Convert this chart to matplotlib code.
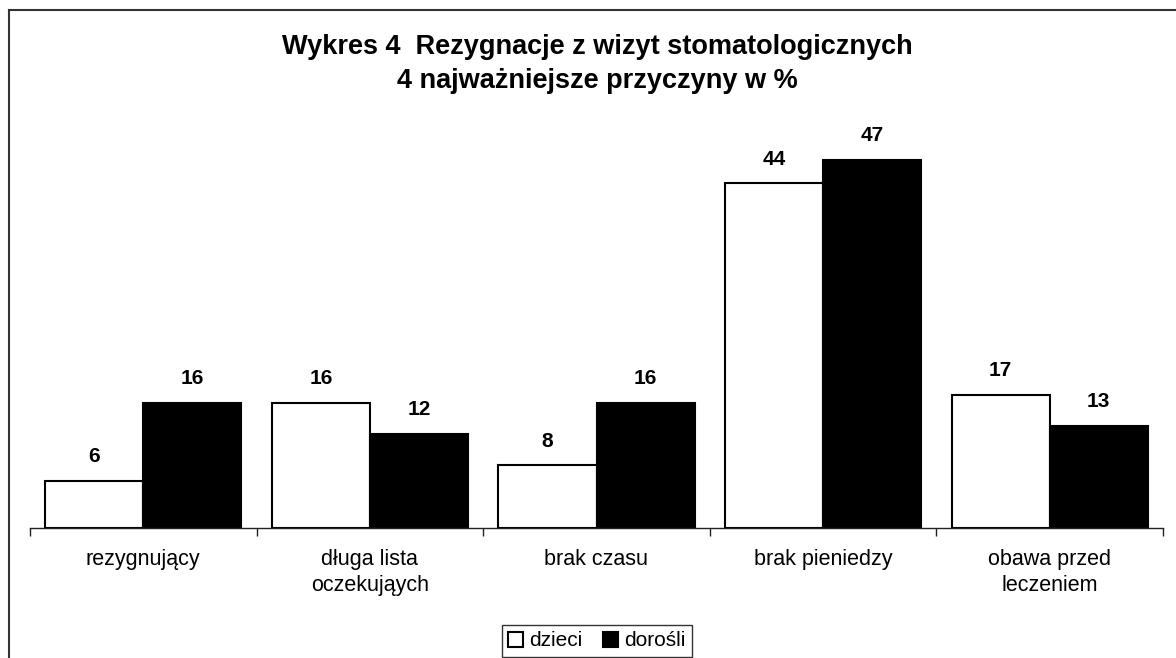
import numpy as np
import matplotlib
matplotlib.use("Agg")
import matplotlib.pyplot as plt
from matplotlib.lines import Line2D
from matplotlib.patches import Patch

# --- data ---
categories = ["rezygnujący", "długa lista\noczekująych", "brak czasu",
              "brak pieniedzy", "obawa przed\nleczeniem"]
dzieci = [6, 16, 8, 44, 17]
dorosli = [16, 12, 16, 47, 13]
series_names = ["dzieci", "dorośli"]
title = "Wykres 4  Rezygnacje z wizyt stomatologicznych\n4 najważniejsze przyczyny w %"

plt.rcParams['font.family'] = ['Liberation Sans', 'DejaVu Sans']

fig = plt.figure(figsize=(11.76, 6.58), dpi=100)
ax = fig.add_axes([30 / 1176, 1 - 528 / 658, 1133 / 1176, 391.5 / 658])

x = np.arange(len(categories))
w = 0.433
b1 = ax.bar(x - w / 2, dzieci, w, color='white', edgecolor='black', linewidth=1.5)
b2 = ax.bar(x + w / 2, dorosli, w, color='black', edgecolor='black', linewidth=1.5)

for rects, vals in ((b1, dzieci), (b2, dorosli)):
    for r, v in zip(rects, vals):
        ax.text(r.get_x() + r.get_width() / 2, v + 2.4, str(v),
                ha='center', va='baseline', fontsize=15, fontweight='bold')

ax.set_xlim(-0.5, len(categories) - 0.5)
ax.set_ylim(0, 50)
for s in ('top', 'right', 'left'):
    ax.spines[s].set_visible(False)
ax.spines['bottom'].set_color('#222222')
ax.spines['bottom'].set_linewidth(1)
ax.set_yticks([])

ax.set_xticks(x)
ax.set_xticklabels(categories, fontsize=15.5, linespacing=1.3)
ax.tick_params(axis='x', which='major', length=0, pad=15)
ax.set_xticks(np.arange(-0.5, len(categories)), minor=True)
ax.tick_params(axis='x', which='minor', length=6, width=1, color='#222222')

fig.text(0.508, 1 - 64 / 658, title, ha='center', va='center',
         fontsize=19.5, fontweight='bold', linespacing=1.4)

handles = [Patch(facecolor='white', edgecolor='black', linewidth=1.5),
           Patch(facecolor='black', edgecolor='black', linewidth=1.5)]
leg = fig.legend(handles, series_names, loc='center', bbox_to_anchor=(597 / 1176, 1 - 641 / 658),
                 ncol=2, fontsize=15, frameon=True, fancybox=False, handlelength=0.7,
                 handleheight=0.7, handletextpad=0.3, columnspacing=1.0, borderpad=0.3,
                 borderaxespad=0)
leg.get_frame().set_edgecolor('black')
leg.get_frame().set_linewidth(1)

# outer chart frame (only left and top edges visible)
fig.add_artist(Line2D([8.5 / 1176, 8.5 / 1176], [0, 1 - 10 / 658], transform=fig.transFigure,
                      color='#333333', linewidth=1.5))
fig.add_artist(Line2D([8.5 / 1176, 1], [1 - 10 / 658, 1 - 10 / 658], transform=fig.transFigure,
                      color='#333333', linewidth=1.5))

fig.savefig('out.png', dpi=100)
